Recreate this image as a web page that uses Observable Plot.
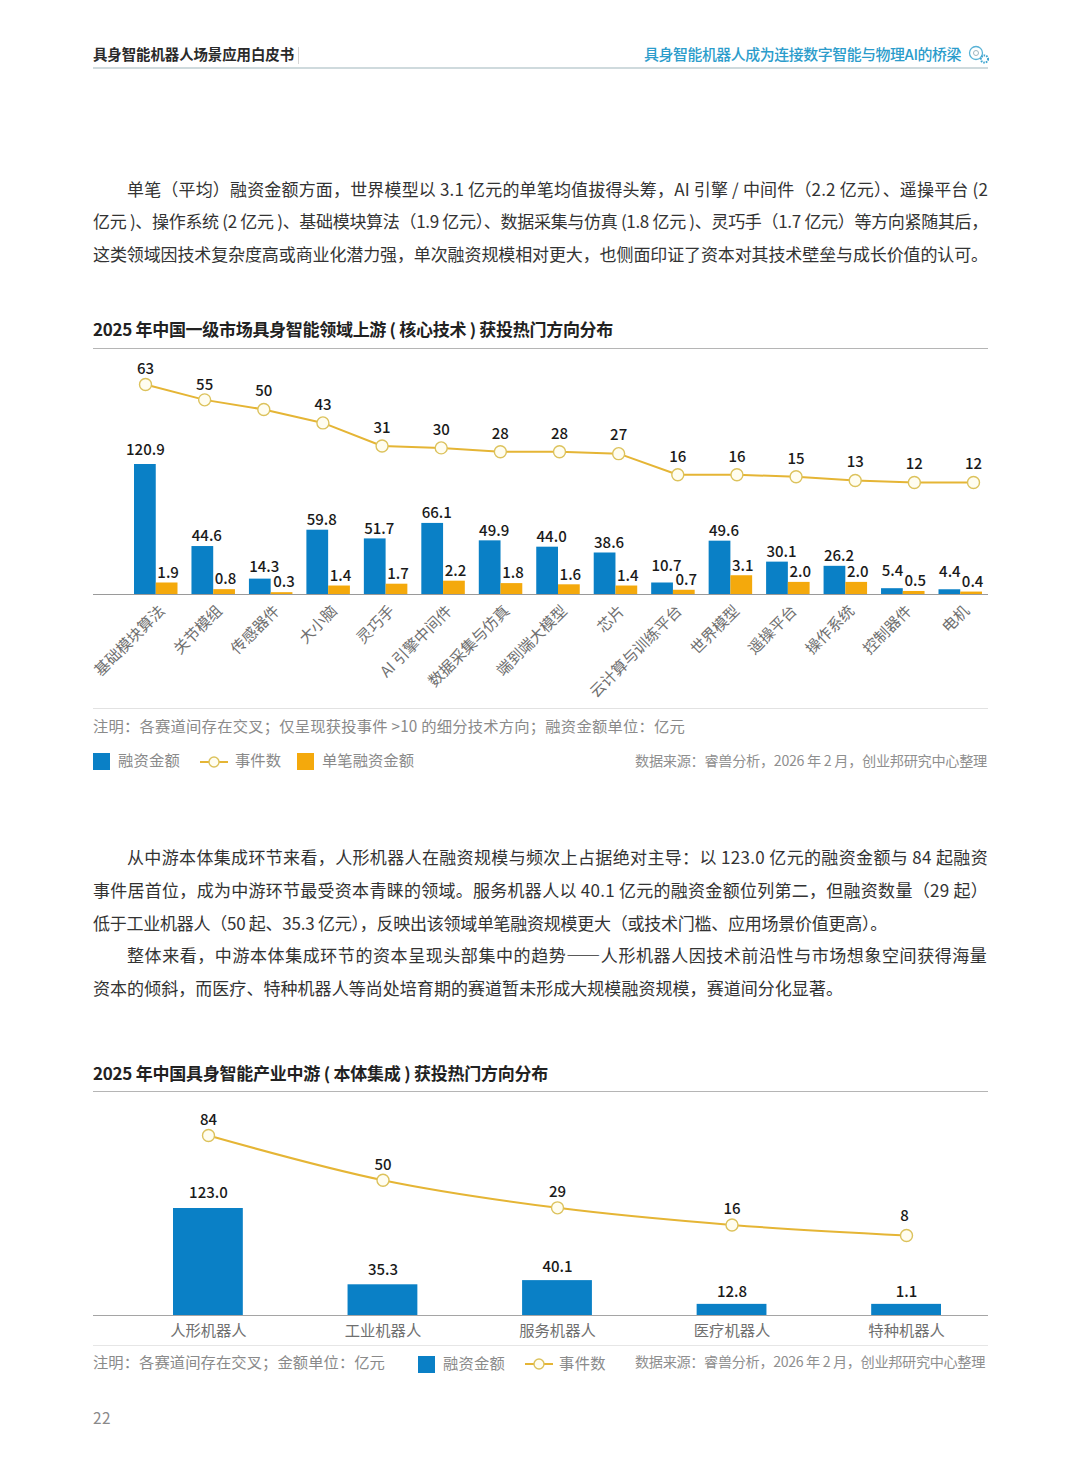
<!DOCTYPE html>
<html lang="zh">
<head>
<meta charset="utf-8">
<script src="https://cdn.jsdelivr.net/npm/d3@7"></script>
<script src="https://cdn.jsdelivr.net/npm/@observablehq/plot@0.6"></script>
<style>
  html,body{margin:0;padding:0;background:#fff;}
  #page{position:relative;width:1080px;height:1466px;overflow:hidden;font-family:"Noto Sans CJK SC","Noto Sans",sans-serif;}
  .t{position:absolute;white-space:nowrap;line-height:1;transform:translateY(-50%);}
  .body{font-size:17px;color:#333;}
  .title{font-size:17px;font-weight:700;color:#222;}
  .note{font-size:15.3px;color:#8a8a8a;}
  .src{font-size:14.2px;color:#8f8f8f;}
  .rule{position:absolute;left:93px;width:895px;}
  .sw{position:absolute;width:17px;height:17px;}
  svg.layer{position:absolute;left:0;}
  .lg{position:absolute;}
</style>
</head>
<body>
<div id="page"></div>
<script>
// ---------- chart 1 data ----------
const upCategories = ["基础模块算法","关节模组","传感器件","大小脑","灵巧手","AI 引擎中间件","数据采集与仿真","端到端大模型","芯片","云计算与训练平台","世界模型","遥操平台","操作系统","控制器件","电机"];
const upFunding = [120.9,44.6,14.3,59.8,51.7,66.1,49.9,44.0,38.6,10.7,49.6,30.1,26.2,5.4,4.4];
const upAverage = [1.9,0.8,0.3,1.4,1.7,2.2,1.8,1.6,1.4,0.7,3.1,2.0,2.0,0.5,0.4];
const upEvents = [63,55,50,43,31,30,28,28,27,16,16,15,13,12,12];

// ---------- chart 2 data ----------
const midCategories = ["人形机器人","工业机器人","服务机器人","医疗机器人","特种机器人"];
const midFundingLabels = ["123.0","35.3","40.1","12.8","1.1"];
// Bar heights: the last bar is printed "1.1" but is drawn as tall as the 12.8 bar.
const midFundingDrawn = [123.0,35.3,40.1,12.8,12.8];
const midEvents = [84,50,29,16,8];

// ---------- colours and fonts ----------
const BLUE = "#0a80c6", ORANGE = "#f4a90c", LINE = "#e5b535", DOT_STROKE = "#dcc25c", DOT_FILL = "#fffdf0";
const FONT = '"Noto Sans CJK SC","Noto Sans",sans-serif';
const NUM = "#1a1a1a", TICK = "#6f6f6f";
const SERIES = ["融资金额","单笔融资金额"];
const AVG_SCALE = 5.63; // secondary scale of 单笔融资金额 against 融资金额

const page = document.getElementById("page");
// place a line of text, vertically centred on y; when fitWidth is given, letter-spacing makes it that wide
function put(cls, text, x, y, fitWidth, extra){
  const d = document.createElement("div");
  d.className = "t " + cls;
  d.textContent = text;
  d.style.top = (y - 1.5) + "px";
  if (x != null) d.style.left = x + "px";
  if (extra) Object.assign(d.style, extra);
  page.appendChild(d);
  if (fitWidth) {
    const w = d.getBoundingClientRect().width;
    d.style.letterSpacing = ((fitWidth - w) / text.length) + "px";
  }
  return d;
}
function rule(y, h, color){
  const d = document.createElement("div");
  d.className = "rule";
  Object.assign(d.style,{top:y+"px",height:h+"px",background:color});
  page.appendChild(d);
}
function swatch(x,y,color){
  const d = document.createElement("div");
  d.className = "sw";
  Object.assign(d.style,{left:x+"px",top:y+"px",background:color});
  page.appendChild(d);
}
function lineKey(x,y){
  const ns="http://www.w3.org/2000/svg";
  const s=document.createElementNS(ns,"svg");
  s.setAttribute("class","lg");s.setAttribute("width",28);s.setAttribute("height",16);
  s.style.left=x+"px";s.style.top=(y-8)+"px";
  s.innerHTML=`<line x1="0" x2="28" y1="8" y2="8" stroke="${LINE}" stroke-width="2"/><circle cx="14" cy="8" r="5" fill="${DOT_FILL}" stroke="${DOT_STROKE}" stroke-width="1.4"/>`;
  page.appendChild(s);
}
function layer(plot, top){
  plot.classList.add("layer");
  plot.style.top = top + "px";
  plot.style.background = "transparent";
  page.appendChild(plot);
}

// ---------- header ----------
put("", "具身智能机器人场景应用白皮书", 93, 55, 201, {fontSize:"14.4px",fontWeight:700,color:"#2a2a2a"});
put("", "具身智能机器人成为连接数字智能与物理AI的桥梁", 644, 55, 317, {fontSize:"14.9px",fontWeight:500,color:"#2b9ccb"});
rule(67,1.5,"#cfdadd");
{
  const d=document.createElement("div");
  Object.assign(d.style,{position:"absolute",left:"298px",top:"47px",width:"1px",height:"17px",background:"#d5d5d5"});
  page.appendChild(d);
  const s=document.createElementNS("http://www.w3.org/2000/svg","svg");
  s.setAttribute("width",22);s.setAttribute("height",20);
  Object.assign(s.style,{position:"absolute",left:"968px",top:"45px"});
  s.innerHTML=`<circle cx="8" cy="8" r="6.5" fill="none" stroke="#58b2d6" stroke-width="1.3"/><circle cx="8" cy="8" r="2.5" fill="none" stroke="#9fb6c0" stroke-width="1"/><circle cx="16.5" cy="14" r="3.6" fill="none" stroke="#3da4cf" stroke-width="2" stroke-dasharray="1.6 1"/>`;
  page.appendChild(s);
}

// ---------- paragraph 1 ----------
put("body","单笔（平均）融资金额方面，世界模型以 3.1 亿元的单笔均值拔得头筹，AI 引擎 / 中间件（2.2 亿元）、遥操平台 (2",127,189,861);
put("body","亿元 )、操作系统 (2 亿元 )、基础模块算法（1.9 亿元）、数据采集与仿真 (1.8 亿元 )、灵巧手（1.7 亿元）等方向紧随其后，",93,221,895);
put("body","这类领域因技术复杂度高或商业化潜力强，单次融资规模相对更大，也侧面印证了资本对其技术壁垒与成长价值的认可。",93,254,895);

// ---------- chart 1 ----------
put("title","2025 年中国一级市场具身智能领域上游 ( 核心技术 ) 获投热门方向分布",93,329.5,520);
rule(347.5,1,"#b5b5b5");

const upTable = upCategories.flatMap((cat,i)=>[
  {cat, series:SERIES[0], value:upFunding[i], y:upFunding[i]},
  {cat, series:SERIES[1], value:upAverage[i], y:upAverage[i]*AVG_SCALE}
]);
const upBlue = upTable.filter(d=>d.series===SERIES[0]);
const upOrange = upTable.filter(d=>d.series===SERIES[1]);
const upLabel = (rows,dx,dy)=>Plot.text(rows,{fx:"cat",x:"series",y:"y",text:d=>d.value.toFixed(1),dx,dy,fontSize:15,fontWeight:500,fill:NUM});
const isCat = (...names)=>d=>names.includes(d.cat);
const closeToNeighbour = ["传感器件","云计算与训练平台"];

layer(Plot.plot({
  width:1080,height:355,marginTop:114,marginBottom:111,marginLeft:134,marginRight:98,
  style:{fontFamily:FONT,background:"transparent"},
  fx:{domain:upCategories,paddingInner:0.243,paddingOuter:0,round:false,label:null,axis:null},
  x:{domain:SERIES,padding:0,round:false,axis:null},
  y:{domain:[0,120.9],axis:null},
  color:{domain:SERIES,range:[BLUE,ORANGE]},
  marks:[
    Plot.barY(upTable,{fx:"cat",x:"series",y:"y",fill:"series"}),
    upLabel(upBlue.filter(d=>!isCat("基础模块算法","控制器件","电机",...closeToNeighbour)(d)),4,-10),
    upLabel(upBlue.filter(isCat("基础模块算法")),0,-14),
    upLabel(upBlue.filter(isCat("传感器件")),4,-12),
    upLabel(upBlue.filter(isCat("云计算与训练平台")),4,-17),
    upLabel(upBlue.filter(isCat("控制器件","电机")),0,-18),
    upLabel(upOrange.filter(d=>!isCat(...closeToNeighbour)(d)),1,-10),
    upLabel(upOrange.filter(isCat(...closeToNeighbour)),2,-10),
    Plot.axisFx({anchor:"bottom",tickRotate:-45,tickSize:0,tickPadding:14,dx:6,label:null,fontSize:15.3,fill:TICK})
  ]
}),350);

const upEventRows = upEvents.map((v,i)=>({cat:upCategories[i],v,i}));
layer(Plot.plot({
  width:1080,height:355,marginTop:34,marginBottom:200,marginLeft:145,marginRight:107,
  style:{fontFamily:FONT,background:"transparent"},
  x:{type:"point",domain:upCategories,padding:0,round:false,axis:null},
  y:{domain:[0,63],axis:null},
  marks:[
    Plot.lineY(upEventRows,{x:"cat",y:"v",stroke:LINE,strokeWidth:2}),
    Plot.dot(upEventRows,{x:"cat",y:"v",r:6,fill:DOT_FILL,stroke:DOT_STROKE,strokeWidth:1.4}),
    Plot.text(upEventRows.slice(0,2),{x:"cat",y:"v",text:"v",dy:-15,fontSize:15,fontWeight:500,fill:NUM}),
    Plot.text(upEventRows.slice(2),{x:"cat",y:"v",text:"v",dy:-18,fontSize:15,fontWeight:500,fill:NUM})
  ]
}),350);
rule(593.5,1,"#9a9a9a");
rule(708,1,"#e2e2e2");

put("note","注明：各赛道间存在交叉；仅呈现获投事件 >10 的细分技术方向；融资金额单位：亿元",93,727,592);
swatch(93,753,BLUE);
put("note","融资金额",118,761.5,62);
lineKey(200,761.5);
put("note","事件数",235,761.5,46);
swatch(297,753,ORANGE);
put("note","单笔融资金额",322,761.5,92);
put("src","数据来源：睿兽分析，2026 年 2 月，创业邦研究中心整理",635,761.5,352);

// ---------- paragraph 2 ----------
put("body","从中游本体集成环节来看，人形机器人在融资规模与频次上占据绝对主导：以 123.0 亿元的融资金额与 84 起融资",127,857,861);
put("body","事件居首位，成为中游环节最受资本青睐的领域。服务机器人以 40.1 亿元的融资金额位列第二，但融资数量（29 起）",93,890,895);
put("body","低于工业机器人（50 起、35.3 亿元），反映出该领域单笔融资规模更大（或技术门槛、应用场景价值更高）。",93,923,794);
put("body","整体来看，中游本体集成环节的资本呈现头部集中的趋势——人形机器人因技术前沿性与市场想象空间获得海量",127,955,861);
put("body","资本的倾斜，而医疗、特种机器人等尚处培育期的赛道暂未形成大规模融资规模，赛道间分化显著。",93,988,750);

// ---------- chart 2 ----------
put("title","2025 年中国具身智能产业中游 ( 本体集成 ) 获投热门方向分布",93,1073.5,455);
rule(1091,1,"#b5b5b5");

const midTable = midCategories.map((cat,i)=>({cat,drawn:midFundingDrawn[i],label:midFundingLabels[i]}));
const midLabel = (rows,dy)=>Plot.text(rows,{x:"cat",y:"drawn",text:"label",dy,fontSize:15,fontWeight:500,fill:NUM});
layer(Plot.plot({
  width:1080,height:250,marginTop:113,marginBottom:30,marginLeft:173,marginRight:139,
  style:{fontFamily:FONT,background:"transparent"},
  x:{domain:midCategories,paddingInner:0.6,paddingOuter:0,round:false,label:null,axis:null},
  y:{domain:[0,123],axis:null},
  marks:[
    Plot.barY(midTable,{x:"cat",y:"drawn",fill:BLUE}),
    midLabel(midTable.slice(0,2),-15),
    midLabel(midTable.slice(2,3),-13.5),
    midLabel(midTable.slice(3),-12.5),
    Plot.axisX({anchor:"bottom",tickSize:0,tickPadding:10,label:null,fontSize:15.3,fill:TICK})
  ]
}),1095);
const midEventRows = midEvents.map((v,i)=>({cat:midCategories[i],v}));
layer(Plot.plot({
  width:1080,height:250,marginTop:40,marginBottom:99.5,marginLeft:208,marginRight:174,
  style:{fontFamily:FONT,background:"transparent"},
  x:{type:"point",domain:midCategories,padding:0,round:false,axis:null},
  y:{domain:[0,84],axis:null},
  marks:[
    Plot.lineY(midEventRows,{x:"cat",y:"v",stroke:LINE,strokeWidth:2,curve:"catmull-rom"}),
    Plot.dot(midEventRows,{x:"cat",y:"v",r:6,fill:DOT_FILL,stroke:DOT_STROKE,strokeWidth:1.4}),
    Plot.text(midEventRows.slice(0,4),{x:"cat",y:"v",text:"v",dy:-15.5,fontSize:15,fontWeight:500,fill:NUM}),
    Plot.text(midEventRows.slice(4),{x:"cat",y:"v",text:"v",dy:-19,dx:-2,fontSize:15,fontWeight:500,fill:NUM})
  ]
}),1095);
rule(1315,1,"#a5a5a5");
rule(1345,1,"#e6e6e6");

put("note","注明：各赛道间存在交叉；金额单位：亿元",93,1363,292);
swatch(418,1356,BLUE);
put("note","融资金额",443,1364.5,62);
lineKey(525,1364);
put("note","事件数",559,1364.5,47);
put("src","数据来源：睿兽分析，2026 年 2 月，创业邦研究中心整理",635,1362,350);

put("note","22",93,1419,18);
</script>
</body>
</html>
